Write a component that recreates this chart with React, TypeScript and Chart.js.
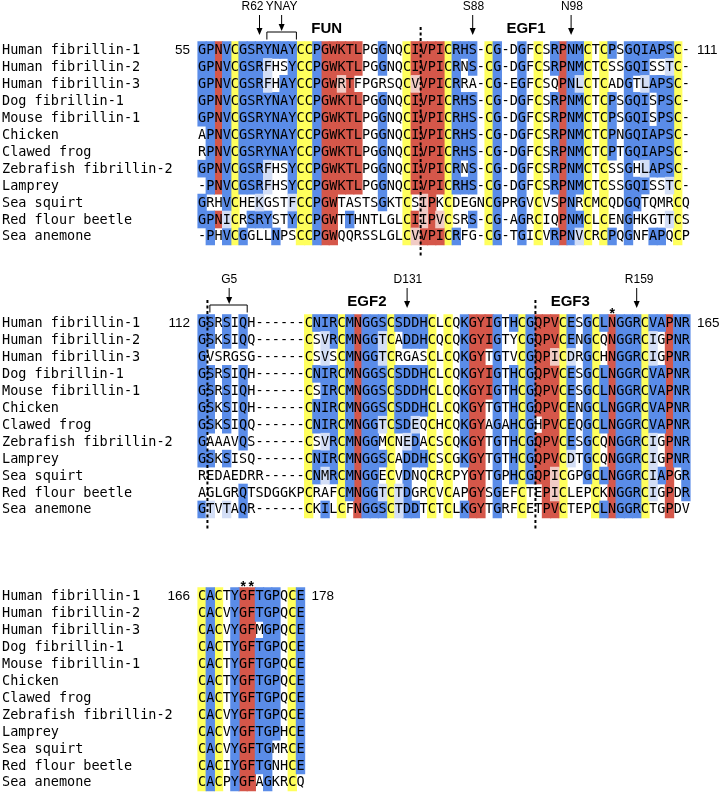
import React, { useEffect, useRef } from "react";
import { Chart, registerables } from "chart.js";

Chart.register(...registerables);

// ---------------- DATA ----------------
const SPECIES = [
  "Human fibrillin-1",
  "Human fibrillin-2",
  "Human fibrillin-3",
  "Dog fibrillin-1",
  "Mouse fibrillin-1",
  "Chicken",
  "Clawed frog",
  "Zebrafish fibrillin-2",
  "Lamprey",
  "Sea squirt",
  "Red flour beetle",
  "Sea anemone",
];

const BLOCK1 = [
  "GPNVCGSRYNAYCCPGWKTLPGGNQCIVPICRHS-CG-DGFCSRPNMCTCPSGQIAPSC-",
  "GPNVCGSRFHSYCCPGWKTLPGGNQCIVPICRNS-CG-DGFCSRPNMCTCSSGQISSTC-",
  "GPNVCGSRFHAYCCPGWRTFPGRSQCVVPICRRA-CG-EGFCSQPNLCTCADGTLAPSC-",
  "GPNVCGSRYNAYCCPGWKTLPGGNQCIVPICRHS-CG-DGFCSRPNMCTCPSGQISPSC-",
  "GPNVCGSRYNAYCCPGWKTLPGGNQCIVPICRHS-CG-DGFCSRPNMCTCPSGQISPSC-",
  "APNVCGSRYNAYCCPGWKTLPGGNQCIVPICRHS-CG-DGFCSRPNMCTCPNGQIAPSC-",
  "RPNVCGSRYNAYCCPGWKTLPGGNQCIVPICRHS-CG-DGFCSRPNMCTCPTGQIAPSC-",
  "GPNVCGSRFHSYCCPGWKTLPGGNQCIVPICRNS-CG-DGFCSRPNMCTCSSGHLAPSC-",
  "-PNVCGSRFHSYCCPGWKTLPGGNQCIVPICRHS-CG-DGFCSRPNMCTCSSGQISSTC-",
  "GRHVCHEKGSTFCCPGWTASTSGKTCSIPKCDEGNCGPRGVCVSPNRCMCQDGQTQMRCQ",
  "GPNICRSRYSTYCCPGWTTHNTLGLCIIPVCSRS-CG-AGRCIQPNMCLCENGHKGTTCS",
  "-PHVCGGLLNPSCCPGWQQRSSLGLCVVPICRFG-CG-TGICVRPNVCRCPQGNFAPQCP",
];

const BLOCK2 = [
  "GSRSIQH------CNIRCMNGGSCSDDHCLCQKGYIGTHCGQPVCESGCLNGGRCVAPNR",
  "GSKSIQQ------CSVRCMNGGTCADDHCQCQKGYIGTYCGQPVCENGCQNGGRCIGPNR",
  "GVSRGSG------CSVSCMNGGTCRGASCLCQKGYTGTVCGQPICDRGCHNGGRCIGPNR",
  "GSRSIQH------CNIRCMNGGSCSDDHCLCQKGYIGTHCGQPVCESGCLNGGRCVAPNR",
  "GSRSIQH------CSIRCMNGGSCSDDHCLCQKGYIGTHCGQPVCESGCLNGGRCVAPNR",
  "GSKSIQH------CNIRCMNGGSCSDDHCLCQKGYTGTHCGQPVCENGCLNGGRCVAPNR",
  "GSKSIQQ------CNIRCMNGGTCSDEQCHCQKGYAGAHCGHPVCEQGCLNGGRCVAPNR",
  "GAAAVQS------CSVRCMNGGMCNEDACSCQKGYTGTHCGQPVCESGCQNGGRCIGPNR",
  "GSKSISQ------CNIRCMNGGSCADDHCSCGKGYTGTHCGQPVCDTGCQNGGRCIGPNR",
  "REDAEDRR-----CNMRCMNGGECVDNQCRCPYGYTGPHCGQPICGPGCLNGGRCIAPGR",
  "AGLGRQTSDGGKPCRAFCMNGGTCTDGRCVCAPGYSGEFCTEPICLEPCKNGGRCIGPDR",
  "GTVTAQR------CKILCFNGGSCTDDTCTCLKGYTGRFCETPVCTEPCLNGGRCTGPDV",
];

const BLOCK3 = [
  "CACTYGFTGPQCE",
  "CACVYGFTGPQCE",
  "CACVYGFMGPQCE",
  "CACTYGFTGPQCE",
  "CACTYGFTGPQCE",
  "CACTYGFTGPQCE",
  "CACTYGFTGPQCE",
  "CACVYGFTGPQCE",
  "CACVYGFTGPHCE",
  "CACVYGFTGMRCE",
  "CACIYGFTGNHCE",
  "CACPYGFAGKRCQ",
];

// column shading class: B blue, R red, Y yellow (cysteine), . none
const CLASS1 =
  "BBRBY" + "BBBBB" + "BBYYB" + "RRRRR" + "..B.." + "YRRRR" +
  "YBBB." + "YB..B" + ".Y.BR" + "BBY.Y" + "B.BBB" + "BBBY.";
const CLASS2 =
  "BB.B." + "B...." + "...YB" + "BBYBR" + "BBBYB" + "BBBY." +
  "Y.BRR" + "RB.BY" + "BRRRY" + "B.BYB" + "RBBBY" + "BBRBB";
const CLASS3 = "YBY.BRRBBB.YB";

const SIMILAR_GROUPS = ["ILVM", "FYW", "KR", "DE", "ST"];
const CELL_OVERRIDES = [{ block: 0, row: 10, col: 18, cls: "B" }];

const START_NUMBERS = ["55", "112", "166"];
const END_NUMBERS = ["111", "165", "178"];

const SITE_MARKS = [
  { block: 0, col: 7, text: "R62", shift: -0.85 },
  { block: 0, col: 33, text: "S88", shift: 0.1 },
  { block: 0, col: 45, text: "N98", shift: 0.1 },
  { block: 1, col: 25, text: "D131", shift: 0.1 },
  { block: 1, col: 53, text: "R159", shift: 0.3 },
];
const BRACKET_MARKS = [
  { block: 0, from: 8.4, to: 12.0, at: 10.2, text: "YNAY" },
  { block: 1, from: 1.45, to: 6.0, at: 3.8, text: "G5" },
];
const DOMAIN_NAMES = [
  { block: 0, at: 15.7, text: "FUN" },
  { block: 0, at: 40.0, text: "EGF1" },
  { block: 1, at: 20.6, text: "EGF2" },
  { block: 1, at: 45.4, text: "EGF3" },
];
const STAR_COLS = [
  { block: 1, col: 50 },
  { block: 2, col: 5 },
  { block: 2, col: 6 },
];
const BOUNDARY_COLS = [
  { block: 0, col: 27 },
  { block: 1, col: 1 },
  { block: 1, col: 41 },
];

// ---------------- LAYOUT ----------------
const W = 726;
const H = 792;
const COL_PX = 8.2;
const SEQ_LEFT = 198;
const ROW_PX = 16.95;
const BLOCK_ROW0 = [50, 323, 596];

const COLORS: Record<string, string> = {
  B: "#5a8ce8",
  R: "#d5574a",
  Y: "#ffff5c",
  b: "#d3def6",
  r: "#f1cbc5",
  y: "#ffffc8",
};

const BLOCKS = [BLOCK1, BLOCK2, BLOCK3];
const CLASSES = [CLASS1, CLASS2, CLASS3];

function rowCenter(b: number, r: number) {
  return BLOCK_ROW0[b] + r * ROW_PX;
}

function cellClass(b: number, r: number, c: number): string {
  const ov = CELL_OVERRIDES.find((o) => o.block === b && o.row === r && o.col === c);
  if (ov) return ov.cls;
  const cls = CLASSES[b][c];
  if (!cls || cls === ".") return ".";
  const ch = BLOCKS[b][r][c];
  const ref = BLOCKS[b][0][c];
  if (ch === "-") return ".";
  if (ch === ref) return cls;
  if (SIMILAR_GROUPS.some((g) => g.includes(ch) && g.includes(ref))) return cls.toLowerCase();
  return ".";
}

function buildDatasets() {
  const keys = ["b", "r", "y", "B", "R", "Y"];
  const data: Record<string, { x: number; y: [number, number] }[]> = {};
  keys.forEach((k) => (data[k] = []));
  BLOCKS.forEach((blk, b) => {
    const n = blk[0].length;
    for (let c = 0; c < n; c++) {
      let r = 0;
      while (r < blk.length) {
        const k = cellClass(b, r, c);
        let e = r;
        while (e + 1 < blk.length && cellClass(b, e + 1, c) === k) e++;
        if (k !== ".") {
          data[k].push({
            x: c + 0.5,
            y: [rowCenter(b, r) - ROW_PX / 2, rowCenter(b, e) + ROW_PX / 2],
          });
        }
        r = e + 1;
      }
    }
  });
  return keys.map((k) => ({
    label: k,
    data: data[k],
    backgroundColor: COLORS[k],
    borderWidth: 0,
    barThickness: COL_PX + 0.5,
    grouped: false,
  }));
}

function drawArrow(ctx: CanvasRenderingContext2D, x: number, y0: number, y1: number) {
  ctx.beginPath();
  ctx.moveTo(x, y0);
  ctx.lineTo(x, y1 - 5);
  ctx.stroke();
  ctx.beginPath();
  ctx.moveTo(x - 3, y1 - 7);
  ctx.lineTo(x + 3, y1 - 7);
  ctx.lineTo(x, y1);
  ctx.closePath();
  ctx.fill();
}

const overlayPlugin = {
  id: "alignmentOverlay",
  afterDatasetsDraw(chart: any) {
    const ctx: CanvasRenderingContext2D = chart.ctx;
    const xs = chart.scales.x;
    const ys = chart.scales.y;
    const px = (c: number) => xs.getPixelForValue(c);
    const py = (v: number) => ys.getPixelForValue(v);
    ctx.save();
    ctx.fillStyle = "#000";
    ctx.strokeStyle = "#000";
    ctx.textBaseline = "middle";

    BLOCKS.forEach((blk, b) => {
      const n = blk[0].length;
      // residues
      ctx.font = "13.5px 'DejaVu Sans Mono', monospace";
      ctx.textAlign = "center";
      blk.forEach((seq, r) => {
        const y = py(rowCenter(b, r));
        for (let c = 0; c < seq.length; c++) {
          ctx.fillText(seq[c], px(c + 0.5), y + 0.5);
        }
      });
      // species names
      ctx.textAlign = "left";
      SPECIES.forEach((name, r) => {
        ctx.fillText(name, 2, py(rowCenter(b, r)) + 0.5);
      });
      // residue numbers
      ctx.font = "13.5px 'Liberation Sans', Arial, sans-serif";
      ctx.textAlign = "right";
      ctx.fillText(START_NUMBERS[b], px(0) - 8, py(rowCenter(b, 0)));
      ctx.textAlign = "left";
      ctx.fillText(END_NUMBERS[b], px(n) + 7, py(rowCenter(b, 0)));
    });

    // site markers
    ctx.lineWidth = 1;
    ctx.font = "12px 'Liberation Sans', Arial, sans-serif";
    ctx.textAlign = "center";
    SITE_MARKS.forEach((m) => {
      const x = px(m.col + 0.5);
      const y0 = rowCenter(m.block, 0);
      ctx.fillText(m.text, px(m.col + 0.5 + m.shift), py(y0 - 43));
      drawArrow(ctx, x, py(y0 - 35), py(y0 - 15));
    });
    BRACKET_MARKS.forEach((m) => {
      const y0 = rowCenter(m.block, 0);
      const xa = px(m.at);
      ctx.fillText(m.text, xa, py(y0 - 43));
      drawArrow(ctx, xa, py(y0 - 35), py(y0 - 19));
      ctx.beginPath();
      ctx.moveTo(px(m.from), py(y0 - 10.5));
      ctx.lineTo(px(m.from), py(y0 - 18));
      ctx.lineTo(px(m.to), py(y0 - 18));
      ctx.lineTo(px(m.to), py(y0 - 10.5));
      ctx.stroke();
    });

    // domain names
    ctx.font = "bold 15px 'Liberation Sans', Arial, sans-serif";
    DOMAIN_NAMES.forEach((d) => {
      ctx.fillText(d.text, px(d.at), py(rowCenter(d.block, 0) - 21.5));
    });

    // stars
    ctx.font = "bold 14px 'Liberation Sans', Arial, sans-serif";
    STAR_COLS.forEach((s) => {
      ctx.fillText("*", px(s.col + 0.5), py(rowCenter(s.block, 0) - 9));
    });

    // domain boundaries
    ctx.lineWidth = 2;
    ctx.setLineDash([3, 2.5]);
    BOUNDARY_COLS.forEach((d) => {
      const x = px(d.col + 0.15);
      const nRows = BLOCKS[d.block].length;
      ctx.beginPath();
      ctx.moveTo(x, py(rowCenter(d.block, 0) - 23));
      ctx.lineTo(x, py(rowCenter(d.block, nRows - 1) + 20));
      ctx.stroke();
    });
    ctx.restore();
  },
};

export default function App() {
  const canvasRef = useRef<HTMLCanvasElement | null>(null);

  useEffect(() => {
    if (!canvasRef.current) return;
    const chart = new Chart(canvasRef.current, {
      type: "bar",
      data: { datasets: buildDatasets() as any },
      options: {
        animation: false,
        responsive: true,
        maintainAspectRatio: false,
        devicePixelRatio: 1,
        layout: { padding: 0 },
        plugins: {
          legend: { display: false },
          tooltip: { enabled: false },
          title: { display: false },
        },
        events: [],
        scales: {
          x: {
            type: "linear",
            min: -SEQ_LEFT / COL_PX,
            max: (W - SEQ_LEFT) / COL_PX,
            offset: false,
            display: false,
          },
          y: {
            type: "linear",
            min: 0,
            max: H,
            reverse: true,
            display: false,
          },
        },
      } as any,
      plugins: [overlayPlugin],
    });
    return () => chart.destroy();
  }, []);

  return (
    <div
      style={{
        position: "absolute",
        left: 0,
        top: 0,
        width: W,
        height: H,
        background: "#fff",
      }}
    >
      <canvas ref={canvasRef} style={{ display: "block" }} />
    </div>
  );
}
